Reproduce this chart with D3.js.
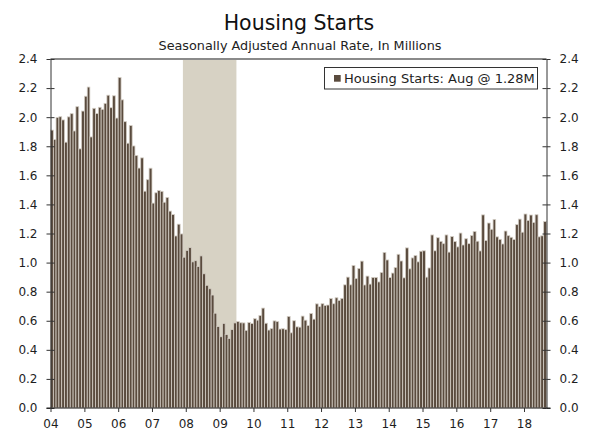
<!DOCTYPE html>
<html>
<head>
<meta charset="utf-8">
<script src="https://cdn.jsdelivr.net/npm/d3@7"></script>
<style>
  html, body { margin: 0; padding: 0; background: #fff; }
  svg { display: block; font-family: "DejaVu Sans", Verdana, sans-serif; }
</style>
</head>
<body>
<svg id="chart" width="600" height="441"></svg>
<script>
// ---- Data (Housing starts, SAAR, millions; Jan 2004 - Aug 2018) ----
const firstMonth = "2004-01";
const starts2004 = [1.911, 1.846, 1.998, 2.003, 1.981, 1.828, 2.002, 2.024, 1.905, 2.072, 1.782, 2.042];
const starts2005 = [2.144, 2.207, 1.864, 2.061, 2.025, 2.068, 2.054, 2.095, 2.151, 2.065, 2.147, 1.994];
const starts2006 = [2.273, 2.119, 1.969, 1.821, 1.942, 1.802, 1.737, 1.650, 1.720, 1.491, 1.570, 1.649];
const starts2007 = [1.409, 1.480, 1.495, 1.490, 1.415, 1.448, 1.354, 1.330, 1.183, 1.264, 1.197, 1.037];
const starts2008 = [1.084, 1.103, 1.005, 1.013, 0.973, 1.046, 0.923, 0.844, 0.820, 0.777, 0.652, 0.560];
const starts2009 = [0.490, 0.582, 0.505, 0.478, 0.540, 0.585, 0.594, 0.586, 0.585, 0.534, 0.588, 0.581];
const starts2010 = [0.614, 0.604, 0.636, 0.687, 0.583, 0.536, 0.546, 0.599, 0.594, 0.543, 0.545, 0.539];
const starts2011 = [0.630, 0.517, 0.600, 0.558, 0.556, 0.632, 0.604, 0.568, 0.650, 0.611, 0.716, 0.697];
const starts2012 = [0.717, 0.705, 0.708, 0.753, 0.717, 0.758, 0.740, 0.754, 0.847, 0.900, 0.847, 0.980];
const starts2013 = [0.891, 0.960, 1.010, 0.846, 0.907, 0.852, 0.898, 0.898, 0.867, 0.932, 1.070, 1.018];
const starts2014 = [0.897, 0.928, 0.966, 1.057, 1.011, 0.895, 1.101, 0.957, 1.032, 1.048, 1.005, 1.078];
const starts2015 = [1.081, 0.900, 0.963, 1.190, 1.081, 1.171, 1.146, 1.130, 1.190, 1.072, 1.179, 1.145];
const starts2016 = [1.108, 1.203, 1.121, 1.164, 1.130, 1.186, 1.214, 1.147, 1.080, 1.328, 1.152, 1.272];
const starts2017 = [1.229, 1.297, 1.177, 1.160, 1.128, 1.217, 1.185, 1.174, 1.159, 1.261, 1.299, 1.209];
const starts2018 = [1.334, 1.290, 1.327, 1.276, 1.329, 1.177, 1.184, 1.282];

const recession = ["2007-12", "2009-07"];
const yTicks = [0.0, 0.2, 0.4, 0.6, 0.8, 1.0, 1.2, 1.4, 1.6, 1.8, 2.0, 2.2, 2.4];
const xTickLabels = ["04","05","06","07","08","09","10","11","12","13","14","15","16","17","18"];
const titleText = "Housing Starts";
const subtitleText = "Seasonally Adjusted Annual Rate, In Millions";
const legendText = "Housing Starts: Aug @ 1.28M";

// ---- Build series ----
const parseMonth = d3.timeParse("%Y-%m");
const values = [].concat(starts2004, starts2005, starts2006, starts2007, starts2008,
  starts2009, starts2010, starts2011, starts2012, starts2013, starts2014,
  starts2015, starts2016, starts2017, starts2018);
const startDate = parseMonth(firstMonth);
const data = values.map((v, i) => ({ date: d3.timeMonth.offset(startDate, i), value: v }));
const endDate = d3.timeMonth.offset(startDate, values.length);

// ---- Layout ----
const svg = d3.select("#chart");
const plotL = 50.5, plotR = 546.5, plotT = 59, plotB = 408;

const x = d3.scaleTime().domain([startDate, endDate]).range([plotL, plotR]);
const y = d3.scaleLinear().domain([0, 2.4]).range([plotB, plotT]);

const textColor = "#1e1e1e";
const barDark = "#5a4b3e";
const barLight = "#d4cec5";

// Recession shading
svg.append("rect")
  .attr("x", x(parseMonth(recession[0])))
  .attr("y", plotT)
  .attr("width", x(parseMonth(recession[1])) - x(parseMonth(recession[0])))
  .attr("height", plotB - plotT)
  .attr("fill", "#d7d2c4");

// Bars
svg.append("g").selectAll("rect").data(data).join("rect")
  .attr("x", d => x(d.date))
  .attr("width", d => x(d3.timeMonth.offset(d.date, 1)) - x(d.date))
  .attr("y", d => y(d.value))
  .attr("height", d => y(0) - y(d.value))
  .attr("fill", barDark)
  .attr("stroke", barLight)
  .attr("stroke-width", 0.8);

// Top frame line
svg.append("line")
  .attr("x1", plotL).attr("x2", plotR).attr("y1", plotT).attr("y2", plotT)
  .attr("stroke", "#8a8a8a").attr("stroke-width", 2);

// Left axis
const leftAxis = d3.axisLeft(y).tickValues(yTicks).tickFormat(d3.format(".1f")).tickSizeInner(4).tickSizeOuter(0).tickPadding(9);
const gL = svg.append("g").attr("transform", `translate(${plotL},0)`).call(leftAxis);
gL.select(".domain").attr("stroke", "#333");
gL.selectAll(".tick line").clone().attr("x2", 4);
gL.selectAll(".tick line").attr("stroke", "#333");
gL.selectAll("text").attr("font-size", 12).attr("fill", textColor).attr("font-family", "DejaVu Sans, sans-serif");

// Right axis
const rightAxis = d3.axisRight(y).tickValues(yTicks).tickFormat(d3.format(".1f")).tickSizeInner(4).tickSizeOuter(0).tickPadding(9);
const gR = svg.append("g").attr("transform", `translate(${plotR},0)`).call(rightAxis);
gR.select(".domain").attr("stroke", "#333");
gR.selectAll(".tick line").clone().attr("x2", -4);
gR.selectAll(".tick line").attr("stroke", "#333");
gR.selectAll("text").attr("font-size", 12).attr("fill", textColor).attr("font-family", "DejaVu Sans, sans-serif");

// Bottom axis
const yearDates = xTickLabels.map(l => new Date(2000 + (+l), 0, 1));
const bottomAxis = d3.axisBottom(x).tickValues(yearDates).tickFormat((d, i) => xTickLabels[i]).tickSizeInner(4).tickSizeOuter(0).tickPadding(7);
const gB = svg.append("g").attr("transform", `translate(0,${plotB})`).call(bottomAxis);
gB.select(".domain").attr("stroke", "#222").attr("d", `M${plotL - 4},0H${plotR + 4}`).attr("stroke-width", 1.2);
gB.selectAll(".tick line").attr("stroke", "#333");
gB.selectAll("text").attr("font-size", 12).attr("fill", textColor).attr("font-family", "DejaVu Sans, sans-serif");

// Title & subtitle
svg.append("text").attr("x", 299).attr("y", 30).attr("text-anchor", "middle")
  .attr("font-size", 20.5).attr("fill", "#111").text(titleText);
svg.append("text").attr("x", 300).attr("y", 49.5).attr("text-anchor", "middle")
  .attr("font-size", 12.8).attr("fill", "#222").text(subtitleText);

// Legend
svg.append("rect").attr("x", 324.5).attr("y", 67.5).attr("width", 213).attr("height", 21.5)
  .attr("fill", "#fff").attr("stroke", "#333").attr("stroke-width", 1);
svg.append("rect").attr("x", 334).attr("y", 75).attr("width", 6.7).attr("height", 6.7).attr("fill", barDark);
svg.append("text").attr("x", 344).attr("y", 82.5).attr("font-size", 13).attr("fill", textColor).text(legendText);
</script>
</body>
</html>
